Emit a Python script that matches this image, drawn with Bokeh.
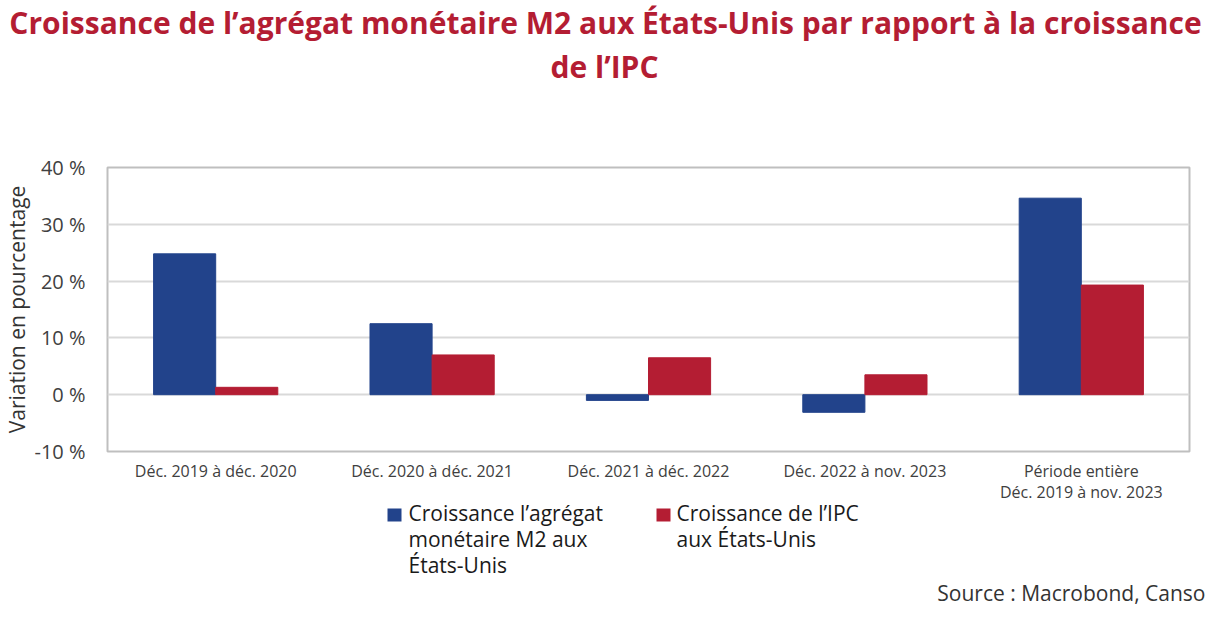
from bokeh.plotting import figure
from bokeh.models import (FactorRange, Range1d, FixedTicker, PrintfTickFormatter,
                          ColumnDataSource)
from bokeh.transform import dodge
from bokeh.layouts import column
from bokeh.core.properties import value
from bokeh.embed import file_html
from bokeh.resources import INLINE

categories = ["Déc. 2019 à déc. 2020", "Déc. 2020 à déc. 2021", "Déc. 2021 à déc. 2022",
              "Déc. 2022 à nov. 2023", "Période entière\nDéc. 2019 à nov. 2023"]
m2_growth = [24.8, 12.5, -1.0, -3.1, 34.6]
cpi_growth = [1.3, 7.0, 6.5, 3.5, 19.3]
y_ticks = [-10, 0, 10, 20, 30, 40]
series_names = ["Croissance l’agrégat\nmonétaire M2 aux\nÉtats-Unis",
                "Croissance de l’IPC\naux États-Unis"]
title_lines = ["Croissance de l’agrégat monétaire M2 aux États-Unis par rapport à la croissance",
               "de l’IPC"]
y_label = "Variation en pourcentage"
source_text = "Source : Macrobond, Canso"

BLUE = "#22438B"
RED = "#B41D33"
FONT = "Open Sans"
W = 1207
OVERLAP = 19
H_HEAD, H_MAIN = 110, 400
H_FOOT = 607 - H_HEAD - H_MAIN + OVERLAP


def blank(h):
    f = figure(width=W, height=h, x_range=Range1d(0, W), y_range=Range1d(h, 0),
               output_backend="svg", toolbar_location=None, x_axis_type=None, y_axis_type=None,
               min_border=0, min_border_left=0, min_border_right=0,
               min_border_top=0, min_border_bottom=0)
    f.outline_line_color = None
    f.grid.visible = False
    f.background_fill_color = None
    f.border_fill_color = None
    try:
        f.frame_align = False
    except Exception:
        pass
    return f


# ---- header (title) ----
head = blank(H_HEAD)
head.text(x=[605, 604], y=[22, 66], text=title_lines, text_align="center",
          text_baseline="middle", text_font=value(FONT), text_font_style="bold",
          text_font_size="30px", text_color=RED)

# ---- main chart ----
FL, FR, FT, FB = 107, 1189, 57, 341
src = ColumnDataSource(dict(cat=categories, m2=m2_growth, cpi=cpi_growth))
p = figure(width=W, height=H_MAIN, x_range=FactorRange(*categories), y_range=Range1d(-10, 40),
           output_backend="svg", toolbar_location=None,
           min_border_left=FL, min_border_right=W - FR, min_border_top=FT,
           min_border_bottom=H_MAIN - FB)
p.x_range.range_padding = 0
p.x_range.factor_padding = 0

bw = 0.287
r1 = p.vbar(x=dodge("cat", -bw / 2, range=p.x_range), top="m2", bottom=0, width=bw,
            source=src, fill_color=BLUE, line_color=BLUE)
r2 = p.vbar(x=dodge("cat", bw / 2, range=p.x_range), top="cpi", bottom=0, width=bw,
            source=src, fill_color=RED, line_color=RED)

p.outline_line_color = "#BFBFBF"
p.outline_line_width = 2
p.xgrid.visible = False
p.ygrid.grid_line_color = "#D9D9D9"
p.ygrid.grid_line_width = 2
p.yaxis.ticker = FixedTicker(ticks=y_ticks)
p.yaxis.formatter = PrintfTickFormatter(format="%d %%")
for ax in (p.xaxis[0], p.yaxis[0]):
    ax.axis_line_color = None
    ax.major_tick_line_color = None
    ax.minor_tick_line_color = None
    ax.major_tick_out = 0
    ax.major_tick_in = 0
    ax.minor_tick_out = 0
    ax.minor_tick_in = 0
    ax.major_label_text_font = FONT
    ax.major_label_text_color = "#404040"
p.yaxis.major_label_text_font_size = "20px"
p.yaxis.major_label_standoff = 22
p.xaxis.major_label_text_font_size = "16px"
p.xaxis.major_label_text_line_height = 0.97
p.xaxis.major_label_standoff = 8
p.yaxis.axis_label = y_label
p.yaxis.axis_label_text_font = FONT
p.yaxis.axis_label_text_font_size = "21px"
p.yaxis.axis_label_text_font_style = "normal"
p.yaxis.axis_label_text_color = "#333333"
p.yaxis.axis_label_standoff = 0

# ---- footer (legend + source), slightly overlapping the chart's bottom border ----
Y0 = H_HEAD + H_MAIN - OVERLAP  # canvas y of footer top
foot = blank(H_FOOT)
foot.margin = (-OVERLAP, 0, 0, 0)
foot.quad(left=[387, 656], right=[401, 670], top=[508 - Y0] * 2, bottom=[521 - Y0] * 2,
          fill_color=[BLUE, RED], line_color=None)
leg_x = [408, 408, 408, 676, 676]
leg_y = [v - Y0 for v in (512, 538.3, 564.5, 512, 538.3)]
leg_t = series_names[0].split("\n") + series_names[1].split("\n")
foot.text(x=leg_x, y=leg_y, text=leg_t, text_align="left", text_baseline="middle",
          text_font=value(FONT), text_font_size="21px", text_color="#1a1a1a")
foot.text(x=[1205], y=[592 - Y0], text=[source_text], text_align="right", text_baseline="middle",
          text_font=value(FONT), text_font_size="21px", text_color="#333333")

layout = column(head, p, foot, spacing=0)
open("out.html", "w").write(file_html(layout, INLINE))
